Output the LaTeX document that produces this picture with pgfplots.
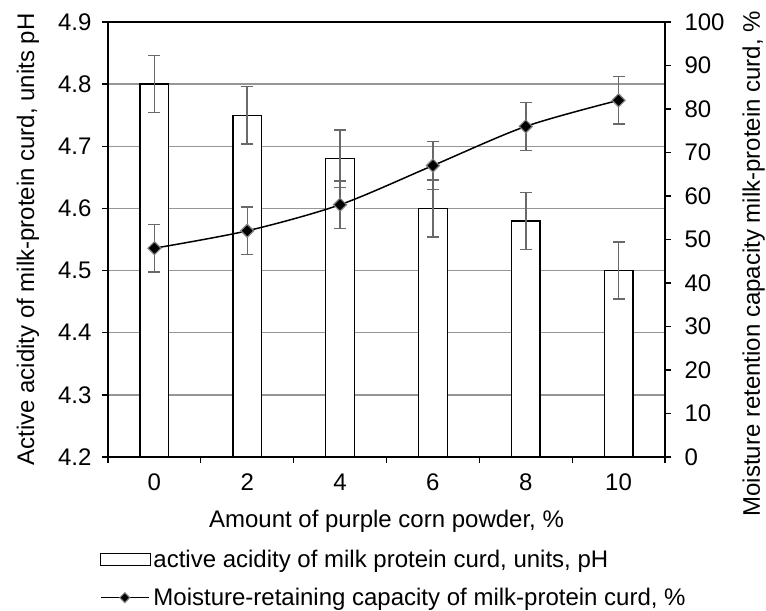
\documentclass[border=0pt]{standalone}
\usepackage{fontspec}
\setmainfont{Liberation Sans}
\usepackage{pgfplots}
\pgfplotsset{compat=1.18}
\definecolor{gridgray}{RGB}{150,150,150}
\definecolor{errgray}{RGB}{105,105,105}
\definecolor{mkgray}{RGB}{130,130,130}

\newcommand{\chartfont}{\fontsize{24bp}{28bp}\selectfont}

\begin{document}
\begin{tikzpicture}[font=\chartfont]
\pgfplotsset{
  base/.style={
    scale only axis, width=557bp, height=435bp,
    at={(0,0)}, anchor=south west,
    xmin=-0.5, xmax=5.5,
    axis line style={black, line width=1.3bp},
    tick style={black, line width=1.3bp},
    major tick length=6bp, minor tick length=6bp,
    tick align=outside,
    tick label style={font=\chartfont},
    label style={font=\chartfont},
  },
  errs/.style={
    error bars/y dir=both, error bars/y explicit,
    error bars/error bar style={errgray, line width=1.5bp},
    error bars/error mark options={errgray, line width=1.5bp, mark size=6bp, rotate=90},
  },
}
% left axis: active acidity (bars)
\begin{axis}[base,
  ymin=4.2, ymax=4.9,
  ytick={4.2,4.3,4.4,4.5,4.6,4.7,4.8,4.9},
  yticklabels={4.2,4.3,4.4,4.5,4.6,4.7,4.8,4.9},
  yticklabel style={xshift=-7bp},
  ytick pos=left,
  xtick={-0.5,0.5,1.5,2.5,3.5,4.5,5.5},
  xticklabels={},
  xtick pos=bottom,
  extra x ticks={0,1,2,3,4,5},
  extra x tick labels={0,2,4,6,8,10},
  extra x tick style={major tick length=0pt, grid=none,
    xticklabel style={yshift=-13bp}},
  ymajorgrids, grid style={gridgray, line width=1.3bp},
  xlabel={Amount of purple corn powder, \%},
  ylabel={Active acidity of milk-protein curd, units pH},
  xlabel style={at={(axis description cs:0.5,-0.161)}, anchor=base},
  ylabel style={at={(axis description cs:-0.1436,0.5)}, anchor=center},
]
\addplot[ybar, bar width=0.31, bar shift=0pt, fill=white, draw=black, line width=1.3bp, errs]
coordinates {
  (0,4.80) +- (0,0.046)
  (1,4.75) +- (0,0.046)
  (2,4.68) +- (0,0.046)
  (3,4.60) +- (0,0.046)
  (4,4.58) +- (0,0.046)
  (5,4.50) +- (0,0.046)
};
\end{axis}
% right axis: moisture-retaining capacity (line)
\begin{axis}[base,
  ymin=0, ymax=100,
  axis y line*=right, axis x line=none,
  ytick={0,10,20,30,40,50,60,70,80,90,100},
  yticklabels={0,10,20,30,40,50,60,70,80,90,100},
  yticklabel style={xshift=10bp},
  ylabel={Moisture retention capacity milk-protein curd, \%},
  ylabel style={at={(axis description cs:1.159,0.444)}, anchor=center},
  legend style={at={(-0.02,-0.205)}, anchor=north west, draw=none, fill=none,
    font=\chartfont, row sep=15bp},
  legend cell align=left,
]
\addlegendimage{legend image code/.code={
  \draw[black, line width=1.3bp, fill=white] (0bp,-6bp) rectangle (50bp,6bp);}}
\addlegendentry{active acidity of milk protein curd, units, pH}
\addplot[black, line width=1.5bp, smooth, mark=square*, mark size=4.6bp,
  mark options={rotate=45, fill=black, draw=mkgray, line width=1.2bp},
  legend image code/.code={
    \draw[black, line width=1.5bp] (0bp,0bp) -- (48bp,0bp);
    \path[mark=square*, mark size=3.5bp, mark options={rotate=45, fill=black, draw=mkgray, line width=1bp}]
      plot coordinates {(24bp,0bp)};},
  errs]
coordinates {
  (0,48) +- (0,5.5)
  (1,52) +- (0,5.5)
  (2,58) +- (0,5.5)
  (3,67) +- (0,5.5)
  (4,76) +- (0,5.5)
  (5,82) +- (0,5.5)
};
\addlegendentry{Moisture-retaining capacity of milk-protein curd, \%}
\end{axis}
\pgfresetboundingbox
\path[use as bounding box] (-108bp,-154bp) rectangle (658bp,457bp);
\end{tikzpicture}
\end{document}
